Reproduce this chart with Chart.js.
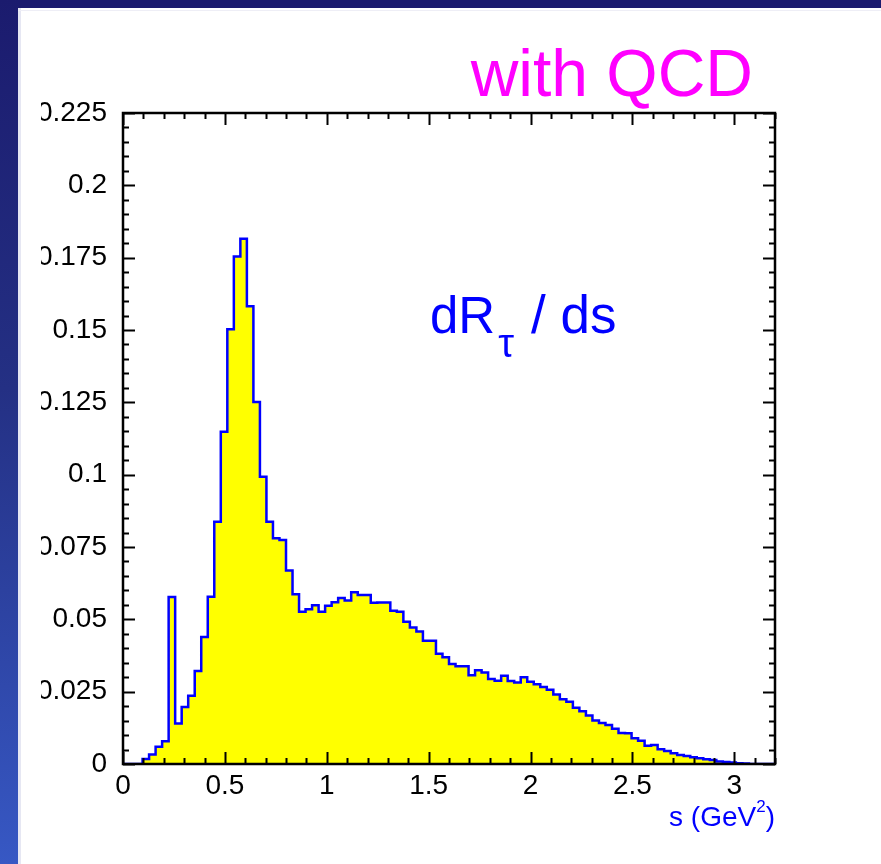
<!DOCTYPE html>
<html>
<head>
<meta charset="utf-8">
<script src="https://cdn.jsdelivr.net/npm/chart.js@4.4.1/dist/chart.umd.min.js"></script>
<style>
  body { margin: 0; background: #fff; width: 881px; height: 864px; overflow: hidden; position: relative; }
  #topbar { position: absolute; left: 0; top: 0; width: 881px; height: 8px; background: #1b1b6e; }
  #sidebar { position: absolute; left: 0; top: 0; width: 18px; height: 864px;
             background: linear-gradient(to bottom, #1b1b6e 0%, #243084 45%, #3758c4 100%); }
  #edge { position: absolute; left: 18px; top: 8px; width: 3px; height: 856px; background: #e6e7f3; }
  #rule { position: absolute; left: 18px; top: 10px; width: 863px; height: 1px; background: #eeeef6; }
  #wrap { position: absolute; left: 41px; top: 0; width: 840px; height: 864px; }
</style>
</head>
<body>
<div id="topbar"></div>
<div id="sidebar"></div>
<div id="edge"></div>
<div id="rule"></div>
<div id="wrap"><canvas id="myChart"></canvas></div>
<script>
// histogram binning in s (GeV^2)
const binStart = 0;
const binWidth = 0.032;

// dR_tau/ds per bin, 100 bins from 0 to 3.2
const rates = [
  0.0000, 0.0000, 0.0000, 0.0017, 0.0033, 0.0060, 0.0079, 0.0577, 0.0140, 0.0197,
  0.0236, 0.0321, 0.0439, 0.0578, 0.0837, 0.1148, 0.1503, 0.1754, 0.1815, 0.1582,
  0.1251, 0.0993, 0.0837, 0.0780, 0.0774, 0.0669, 0.0587, 0.0526, 0.0535, 0.0549,
  0.0526, 0.0547, 0.0559, 0.0574, 0.0565, 0.0594, 0.0584, 0.0584, 0.0557, 0.0558,
  0.0558, 0.0530, 0.0526, 0.0492, 0.0472, 0.0458, 0.0426, 0.0426, 0.0381, 0.0369,
  0.0346, 0.0338, 0.0338, 0.0307, 0.0324, 0.0316, 0.0294, 0.0288, 0.0305, 0.0287,
  0.0282, 0.0300, 0.0284, 0.0276, 0.0266, 0.0257, 0.0240, 0.0224, 0.0215, 0.0194,
  0.0182, 0.0168, 0.0150, 0.0142, 0.0135, 0.0122, 0.0107, 0.0106, 0.0089, 0.0080,
  0.0063, 0.0066, 0.0051, 0.0045, 0.0037, 0.0031, 0.0028, 0.0023, 0.0020, 0.0016,
  0.0014, 0.0009, 0.0007, 0.0005, 0.0003, 0.0002, 0.0000, 0.0000, 0.0000, 0.0000
];

const xTicks = [0, 0.5, 1, 1.5, 2, 2.5, 3];
const xLabels = ['0', '0.5', '1', '1.5', '2', '2.5', '3'];
const yTicks = [0, 0.025, 0.05, 0.075, 0.1, 0.125, 0.15, 0.175, 0.2, 0.225];
const yLabels = ['0', '0.025', '0.05', '0.075', '0.1', '0.125', '0.15', '0.175', '0.2', '0.225'];

// left bin edges plus the closing edge, drawn as a stepped line
const histPoints = rates.map((v, i) => ({ x: binStart + i * binWidth, y: v }));
histPoints.push({ x: binStart + rates.length * binWidth, y: rates[rates.length - 1] });

const FONT = '"Liberation Sans", Arial, Helvetica, sans-serif';

// box around the plot with inward ticks on all four sides
const frame = {
  id: 'frame',
  afterDatasetsDraw(chart) {
    const { ctx, chartArea: a, scales: { x, y } } = chart;
    ctx.save();
    ctx.strokeStyle = '#000';
    ctx.lineWidth = 2;
    ctx.beginPath();
    for (let i = 0; i <= 32; i++) {
      const px = Math.round(x.getPixelForValue(i * 0.1)) + 0.5;
      const len = i % 5 === 0 ? 12 : 6;
      ctx.moveTo(px, a.bottom); ctx.lineTo(px, a.bottom - len);
      ctx.moveTo(px, a.top); ctx.lineTo(px, a.top + len);
    }
    for (let i = 0; i <= 45; i++) {
      const py = Math.round(y.getPixelForValue(i * 0.005)) + 0.5;
      const len = i % 5 === 0 ? 12 : 6;
      ctx.moveTo(a.left, py); ctx.lineTo(a.left + len, py);
      ctx.moveTo(a.right, py); ctx.lineTo(a.right - len, py);
    }
    ctx.stroke();
    ctx.lineWidth = 2.5;
    ctx.strokeRect(a.left, a.top, a.right - a.left, a.bottom - a.top);
    ctx.restore();
  }
};

// title, in-plot label and axis title
const labels = {
  id: 'labels',
  afterDraw(chart) {
    const { ctx, chartArea: a } = chart;
    ctx.save();
    ctx.textBaseline = 'alphabetic';

    ctx.fillStyle = '#ff00ff';
    ctx.font = '66px ' + FONT;
    ctx.textAlign = 'right';
    ctx.fillText('with QCD', 712, 96);

    ctx.fillStyle = '#0000ff';
    ctx.textAlign = 'left';
    let tx = 389;
    ctx.font = '51px ' + FONT;
    ctx.fillText('dR', tx, 333);
    tx += ctx.measureText('dR').width + 3;
    ctx.font = '40px ' + FONT;
    ctx.fillText('\u03c4', tx, 357);
    ctx.font = '53px ' + FONT;
    ctx.fillText('/ ds', 490, 333);

    ctx.textAlign = 'right';
    let rx = a.right;
    ctx.font = '28px ' + FONT;
    ctx.fillText(')', rx, 826);
    rx -= ctx.measureText(')').width;
    ctx.font = '17px ' + FONT;
    ctx.fillText('2', rx, 812);
    rx -= ctx.measureText('2').width;
    ctx.font = '28px ' + FONT;
    ctx.fillText('s (GeV', rx, 826);
    ctx.restore();
  }
};

const ctx = document.getElementById('myChart');

new Chart(ctx, {
  type: 'line',
  data: {
    datasets: [{
      data: histPoints,
      stepped: 'before',
      borderColor: '#0000ff',
      borderWidth: 2.5,
      backgroundColor: '#ffff00',
      fill: 'origin',
      pointRadius: 0,
      borderJoinStyle: 'miter'
    }]
  },
  options: {
    responsive: true,
    maintainAspectRatio: false,
    animation: false,
    layout: { padding: { top: 113, right: 106, bottom: 60, left: 0 } },
    plugins: {
      legend: { display: false },
      tooltip: { enabled: false }
    },
    scales: {
      x: {
        type: 'linear',
        min: 0,
        max: 3.2,
        grid: { display: false, drawTicks: false },
        border: { display: false },
        afterFit: (s) => { s.height = 40; },
        afterBuildTicks: (s) => { s.ticks = xTicks.map(v => ({ value: v })); },
        ticks: {
          color: '#000',
          padding: 5,
          maxRotation: 0,
          font: { family: FONT, size: 28 },
          callback: (v, i) => xLabels[i]
        }
      },
      y: {
        min: 0,
        max: 0.225,
        grid: { display: false, drawTicks: false },
        border: { display: false },
        afterFit: (s) => { s.width = 82; },
        afterBuildTicks: (s) => { s.ticks = yTicks.map(v => ({ value: v })); },
        ticks: {
          color: '#000',
          padding: 16,
          font: { family: FONT, size: 28 },
          callback: (v, i) => yLabels[i]
        }
      }
    }
  },
  plugins: [frame, labels]
});
</script>
</body>
</html>
